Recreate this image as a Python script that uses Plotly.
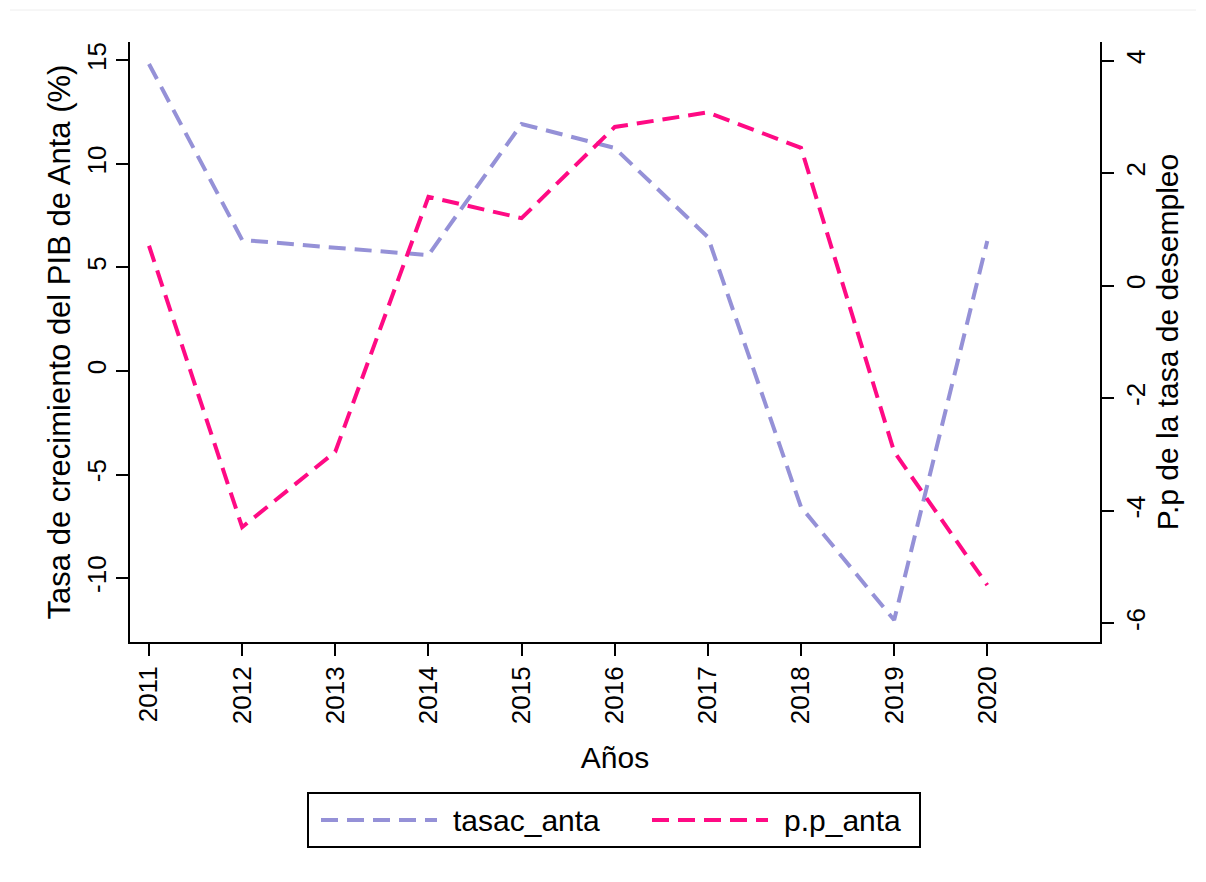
import plotly.graph_objects as go

# ---- data ----
years = [2011, 2012, 2013, 2014, 2015, 2016, 2017, 2018, 2019, 2020]
tasac_anta = [14.83, 6.33, 5.95, 5.60, 11.93, 10.77, 6.47, -6.57, -12.03, 6.28]
pp_anta = [0.71, -4.29, -2.95, 1.58, 1.20, 2.82, 3.08, 2.45, -2.95, -5.32]
x_ticks = years
x_labels = [str(y) for y in years]
y1_ticks = [-10, -5, 0, 5, 10, 15]
y1_labels = ["-10", "-5", "0", "5", "10", "15"]
y2_ticks = [-6, -4, -2, 0, 2, 4]
y2_labels = ["-6", "-4", "-2", "0", "2", "4"]

PURPLE = "#9591D7"
PINK = "#FF0A84"
FONT = "Liberation Sans, Arial, Helvetica, sans-serif"

W, H = 1206, 882
OFF = 8  # page body margin
# plot area in screen pixels
SL, SR, ST, SB = 130, 1100, 42, 642
L, R, T, B = SL - OFF, SR - OFF, ST - OFF, SB - OFF


def px(xs):
    return (xs - SL) / (SR - SL)


def py(ys):
    return (SB - ys) / (SB - ST)


fig = go.Figure()
fig.add_trace(go.Scatter(x=years, y=tasac_anta, mode="lines", name="tasac_anta",
                         line=dict(color=PURPLE, width=4, dash="17px,9px"),
                         yaxis="y"))
fig.add_trace(go.Scatter(x=years, y=pp_anta, mode="lines", name="p.p_anta",
                         line=dict(color=PINK, width=4, dash="17px,9px"),
                         yaxis="y2"))

axis_common = dict(showgrid=False, zeroline=False, showline=True, linecolor="black",
                   linewidth=2, ticks="outside", ticklen=12, tickwidth=2, tickcolor="black",
                   tickfont=dict(family=FONT, size=26, color="black"))

fig.update_layout(
    width=W, height=H,
    margin=dict(l=L, r=W - R, t=T, b=H - B, pad=0),
    paper_bgcolor="white", plot_bgcolor="white",
    showlegend=False,
    font=dict(family=FONT, color="black"),
    xaxis=dict(range=[2010.796, 2021.21], tickvals=x_ticks, ticktext=x_labels,
               tickangle=-90,
               title=dict(text="Años", font=dict(family=FONT, size=30), standoff=24),
               **axis_common),
    yaxis=dict(range=[-13.09, 15.89], tickvals=y1_ticks, ticktext=y1_labels, tickangle=-90,
               title=dict(text="Tasa de crecimiento del PIB de Anta (%)",
                          font=dict(family=FONT, size=31), standoff=2),
               **axis_common),
    yaxis2=dict(range=[-6.33, 4.33], tickvals=y2_ticks, ticktext=y2_labels, tickangle=-90,
                overlaying="y", side="right",
                title=dict(text="P.p de la tasa de desempleo",
                           font=dict(family=FONT, size=30), standoff=5),
                **axis_common),
)

shapes = []
# faint outer border line at top
shapes.append(dict(type="line", xref="paper", yref="paper",
                   x0=px(10), x1=px(1196), y0=py(10), y1=py(10),
                   line=dict(color="#EEEEEE", width=1)))
# legend box
shapes.append(dict(type="rect", xref="paper", yref="paper",
                   x0=px(308), x1=px(920), y0=py(793), y1=py(847),
                   line=dict(color="black", width=2), fillcolor="white"))
# legend samples
shapes.append(dict(type="line", xref="paper", yref="paper",
                   x0=px(321), x1=px(437), y0=py(820), y1=py(820),
                   line=dict(color=PURPLE, width=4, dash="17px,9px")))
shapes.append(dict(type="line", xref="paper", yref="paper",
                   x0=px(652), x1=px(768), y0=py(820), y1=py(820),
                   line=dict(color=PINK, width=4, dash="17px,9px")))
fig.update_layout(shapes=shapes)

annotations = [
    dict(text="tasac_anta", xref="paper", yref="paper", x=px(451), y=py(820),
         xanchor="left", yanchor="middle", showarrow=False,
         font=dict(family=FONT, size=30, color="black")),
    dict(text="p.p_anta", xref="paper", yref="paper", x=px(782), y=py(820),
         xanchor="left", yanchor="middle", showarrow=False,
         font=dict(family=FONT, size=30, color="black")),
]
fig.update_layout(annotations=annotations)

fig.write_html("out.html")
